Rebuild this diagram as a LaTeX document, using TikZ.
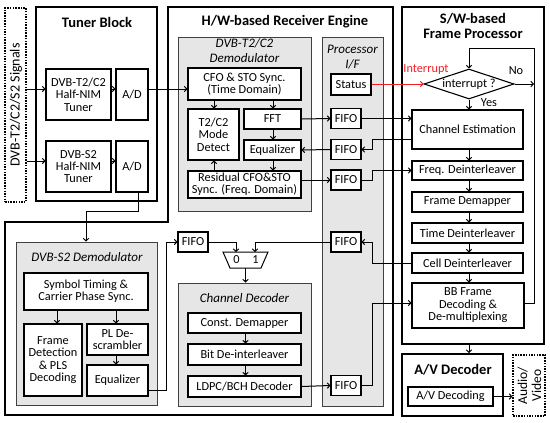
\documentclass[tikz,border=0pt]{standalone}
\usepackage{fontspec}
\setmainfont{Carlito}
\usetikzlibrary{arrows.meta,shapes.geometric,calc}
\definecolor{panelgray}{HTML}{E6E6E6}
\definecolor{intred}{HTML}{F01E24}
\begin{document}
\begin{tikzpicture}[x=1pt,y=-1pt,
  every node/.style={font=\fontsize{12.3}{12.4}\selectfont},
  box/.style={draw, line width=1.1pt, fill=white, inner sep=0pt, align=center},
  panel/.style={draw=black!75, line width=1pt, fill=panelgray, inner sep=0pt},
  outer/.style={draw, line width=2pt},
  dbox/.style={draw, line width=1.2pt, dash pattern=on 1.5pt off 1.2pt, inner sep=0pt, align=center},
  ttl/.style={font=\fontsize{14.5}{15.5}\selectfont\bfseries, align=center},
  ital/.style={font=\fontsize{13}{15}\selectfont\itshape, align=center},
  arr/.style={line width=1pt, -{Straight Barb[length=2.5pt,width=5.5pt]}},
  ln/.style={line width=1pt}
]
\useasboundingbox (0,0) rectangle (550,423);

% ---------- Signals and Tuner block
\node[dbox, minimum width=21pt, minimum height=194pt] (sig) at (15.5,105) {};
\node[rotate=90, font=\fontsize{14}{15}\selectfont] (sigt) at (16,105) {DVB-T2/C2/S2 Signals};
\node[outer, minimum width=121pt, minimum height=194pt, inner sep=0pt] (tuner) at (96.5,104) {};
\node[ttl] (tunert) at (97,22) {Tuner Block};
\node[box, minimum width=65pt, minimum height=51pt] (tun1) at (78.5,94.5) {DVB-T2/C2\\Half-NIM\\Tuner};
\node[box, minimum width=32pt, minimum height=51pt] (ad1) at (132,94.5) {A/D};
\node[box, minimum width=65pt, minimum height=51pt] (tun2) at (78.5,166.5) {DVB-S2\\Half-NIM\\Tuner};
\node[box, minimum width=32pt, minimum height=51pt] (ad2) at (132,166.5) {A/D};

% ---------- H/W engine (L-shape)
\draw[outer] (168,7) -- (393,7) -- (393,415) -- (5,415) -- (5,222) -- (168,222) -- cycle;
\node[ttl] (hwt) at (285,22) {H/W-based Receiver Engine};

% DVB-T2/C2 demodulator
\node[panel, minimum width=133pt, minimum height=174pt] (t2p) at (244.5,124) {};
\node[ital] (t2t) at (244.5,51) {DVB-T2/C2\\Demodulator};
\node[box, minimum width=113pt, minimum height=32pt] (cfo) at (244.5,84) {CFO \& STO Sync.\\(Time Domain)};
\node[box, minimum width=51pt, minimum height=51pt] (mode) at (213.5,134.5) {T2/C2\\Mode\\Detect};
\node[box, minimum width=57pt, minimum height=20pt] (fft) at (272.5,119) {FFT};
\node[box, minimum width=57pt, minimum height=20pt] (eq1) at (272.5,150) {Equalizer};
\node[box, minimum width=113pt, minimum height=27pt] (res) at (244.5,184.5) {Residual CFO\&STO\\Sync. (Freq. Domain)};

% Processor I/F
\node[panel, minimum width=61pt, minimum height=369pt] (pif) at (352.5,221.5) {};
\node[ital] (pift) at (352.5,57.5) {Processor\\I/F};
\node[box, minimum width=40pt, minimum height=21pt] (status) at (351,84.5) {Status};
\node[box, minimum width=30pt, minimum height=20pt] (fifo1) at (346,118.5) {FIFO};
\node[box, minimum width=30pt, minimum height=20pt] (fifo2) at (346,149.5) {FIFO};
\node[box, minimum width=30pt, minimum height=20pt] (fifo3) at (346,180) {FIFO};
\node[box, minimum width=30pt, minimum height=20pt] (fifo4) at (346,242) {FIFO};
\node[box, minimum width=30pt, minimum height=20pt] (fifo5) at (346,385.5) {FIFO};
\node[box, minimum width=30pt, minimum height=20pt] (fifos) at (193,242) {FIFO};

% Mux
\draw[ln, fill=white] (223,252) -- (268,252) -- (261,268) -- (230,268) -- cycle;
\coordinate (muxb) at (245.5,268);
\node (m0) at (236.5,260) {0};
\node (m1) at (255.5,260) {1};

% Channel decoder
\node[panel, minimum width=133pt, minimum height=123pt] (cdp) at (244.5,344.5) {};
\node[ital] (cdt) at (244.5,298) {Channel Decoder};
\node[box, minimum width=113pt, minimum height=20pt] (cdm) at (244.5,323) {Const. Demapper};
\node[box, minimum width=113pt, minimum height=21pt] (bdi) at (244.5,354.5) {Bit De-interleaver};
\node[box, minimum width=113pt, minimum height=21pt] (ldpc) at (244.5,386.5) {LDPC/BCH Decoder};

% DVB-S2 demodulator
\node[panel, minimum width=141pt, minimum height=163pt] (s2p) at (86.5,323.5) {};
\node[ital] (s2t) at (87,257) {DVB-S2 Demodulator};
\node[box, minimum width=124pt, minimum height=37pt] (sym) at (86,291.5) {Symbol Timing \&\\Carrier Phase Sync.};
\node[box, minimum width=58pt, minimum height=72pt] (fdet) at (53,360) {Frame\\Detection\\\& PLS\\Decoding};
\node[box, minimum width=61pt, minimum height=31pt] (pl) at (117.5,339.5) {PL De-\\scrambler};
\node[box, minimum width=61pt, minimum height=31pt] (eq2) at (117.5,380.5) {Equalizer};

% ---------- S/W frame processor
\node[outer, minimum width=142pt, minimum height=337pt, inner sep=0pt] (sw) at (473,175.5) {};
\node[ttl] (swt) at (473,26) {S/W-based\\Frame Processor};
\node[draw, line width=1.1pt, diamond, aspect=3, inner sep=0pt, minimum width=90pt, minimum height=30pt, fill=white] (dia) at (469,84) {interrupt ?};
\node[box, minimum width=111pt, minimum height=39pt] (chest) at (467.5,129.5) {Channel Estimation};
\node[box, minimum width=111pt, minimum height=19pt] (freq) at (467.5,170.5) {Freq. Deinterleaver};
\node[box, minimum width=111pt, minimum height=20pt] (fdm) at (467.5,202) {Frame Demapper};
\node[box, minimum width=111pt, minimum height=20pt] (tdi) at (467.5,233) {Time Deinterleaver};
\node[box, minimum width=111pt, minimum height=20pt] (cdi) at (467.5,263) {Cell Deinterleaver};
\node[box, minimum width=112pt, minimum height=45pt] (bbf) at (468,305.5) {BB Frame\\Decoding \&\\De-multiplexing};
\node[text=intred] (intt) at (426,69.5) {Interrupt};
\node (yes) at (489,102.5) {Yes};
\node (no) at (516,71) {No};

% A/V decoder
\node[outer, minimum width=101pt, minimum height=62pt, inner sep=0pt] (av) at (452.5,385) {};
\node[ttl] (avt) at (453,370) {A/V Decoder};
\node[box, minimum width=85pt, minimum height=19pt] (avd) at (450.5,396.5) {A/V Decoding};
\node[dbox, minimum width=32pt, minimum height=61pt] (audio) at (529,385.5) {};
\node[rotate=90, font=\fontsize{13.5}{14}\selectfont, align=center] (audiot) at (529.5,385.5) {Audio/\\Video};

% ---------- helper coordinates
\coordinate (y89) at (0,89);
\coordinate (y161) at (0,161);
\coordinate (xa) at (214,0);
\coordinate (xb) at (273,0);
\coordinate (xs1) at (57,0);
\coordinate (xs2) at (116,0);
\coordinate (xc) at (245.5,0);
\coordinate (xw) at (469,0);

% ---------- connectors
\draw[arr] (sig.east |- y89) -- (tun1.west |- y89);
\draw[arr] (sig.east |- y161) -- (tun2.west |- y161);
\draw[arr] (tun1.east |- y89) -- (ad1.west |- y89);
\draw[arr] (tun2.east |- y161) -- (ad2.west |- y161);
\draw[arr] (ad1.east |- y89) -- (cfo.west |- y89);
\draw[arr] (ad2.south -| 138,0) -- (138,211) -- (86,211) -- (s2p.north -| 86,0);

\draw[arr] (cfo.south -| xa) -- (mode.north -| xa);
\draw[arr] (cfo.south -| xb) -- (fft.north -| xb);
\draw[arr] (fft.south -| xb) -- (eq1.north -| xb);
\draw[arr] (eq1.south -| xb) -- (res.north -| xb);
\draw[arr] (res.north -| xa) -- (mode.south -| xa);
\draw[arr] (fft.east) -- (fifo1.west);
\draw[arr] (fifo2.west) -- (eq1.east);
\draw[arr] (res.east |- fifo3.west) -- (fifo3.west);

\draw[arr, draw=intred] (status.east |- dia.west) -- (dia.west);
\draw[arr] (fifo1.east) -- (chest.west |- fifo1.east);
\draw[arr] (chest.west |- 0,139) -- (372,139) -- (372,149.5) -- (fifo2.east);
\draw[arr] (fifo3.east) -- (372,180) -- (372,170.5) -- (freq.west);
\draw[arr] (cdi.west) -- (372,263) -- (372,242) -- (fifo4.east);
\draw[arr] (fifo5.east) -- (372,385.5) -- (372,303) -- (bbf.west |- 0,303);

\draw[arr] (fifos.east) -- (236,242) -- (236,252);
\draw[arr] (fifo4.west) -- (255,242) -- (255,252);
\draw[arr] (muxb) -- (cdp.north -| muxb);
\draw[arr] (cdm.south -| xc) -- (bdi.north -| xc);
\draw[arr] (bdi.south -| xc) -- (ldpc.north -| xc);
\draw[arr] (ldpc.east) -- (fifo5.west);

\draw[arr] (sym.south -| xs1) -- (fdet.north -| xs1);
\draw[arr] (sym.south -| xs2) -- (pl.north -| xs2);
\draw[arr] (pl.south -| xs2) -- (eq2.north -| xs2);
\draw[arr] (eq2.east |- 0,390) -- (166,390) -- (166,242) -- (fifos.west);

\draw[arr] (dia.south) -- (chest.north -| dia.south);
\draw[arr] (dia.east) -- (534,84);
\draw[arr] (bbf.east |- 0,303) -- (534,303) -- (534,48) -- (469,48) -- (dia.north);
\draw[arr] (chest.south -| xw) -- (freq.north -| xw);
\draw[arr] (freq.south -| xw) -- (fdm.north -| xw);
\draw[arr] (fdm.south -| xw) -- (tdi.north -| xw);
\draw[arr] (tdi.south -| xw) -- (cdi.north -| xw);
\draw[arr] (cdi.south -| xw) -- (bbf.north -| xw);
\draw[arr] (sw.south -| xw) -- (av.north -| xw);
\draw[arr] (avd.east) -- (audio.west |- avd.east);
\end{tikzpicture}
\end{document}
